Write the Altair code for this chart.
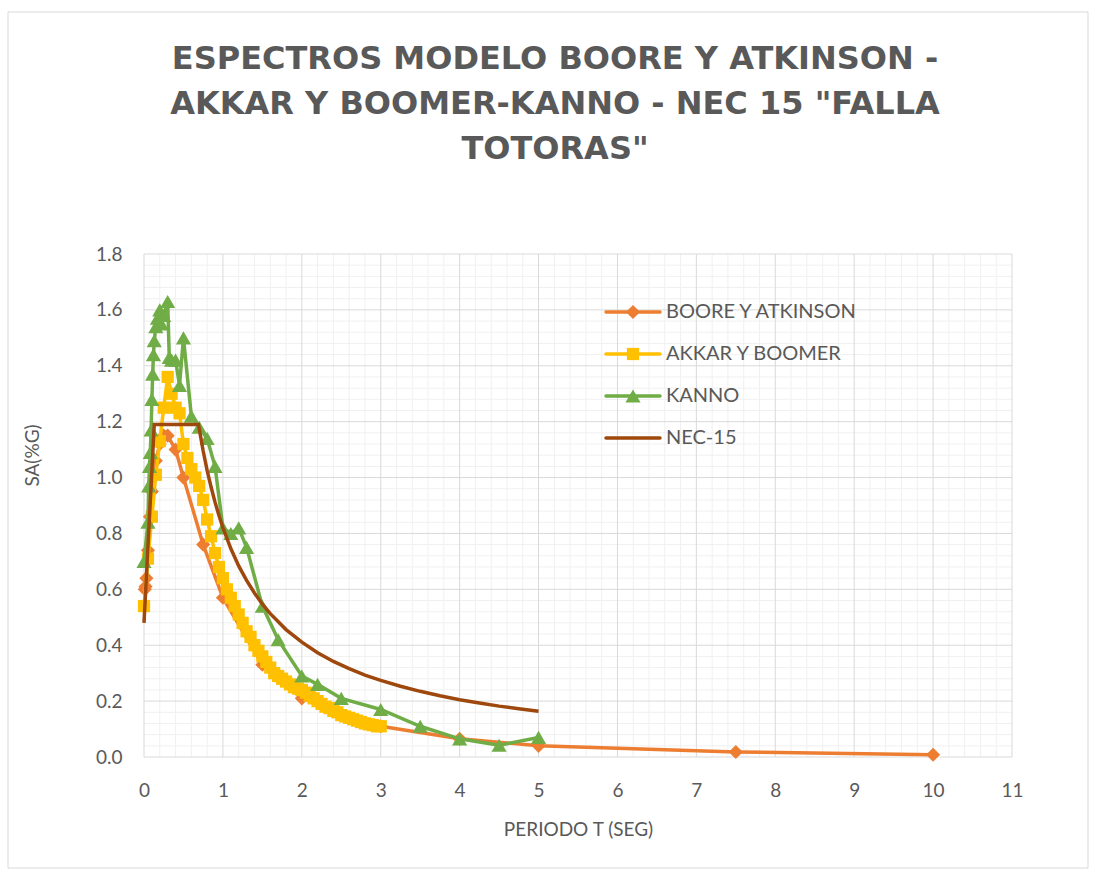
import altair as alt
import pandas as pd

# Series names and colours
SERIES = ["BOORE Y ATKINSON", "AKKAR Y BOOMER", "KANNO", "NEC-15"]
COLORS = ["#ED7D31", "#FFC000", "#70AD47", "#9E480E"]

# Boore y Atkinson: period (s) and spectral acceleration
ba_t = [0.01, 0.02, 0.03, 0.05, 0.075, 0.10, 0.15, 0.20, 0.25, 0.30, 0.40,
        0.50, 0.75, 1.00, 1.50, 2.00, 3.00, 4.00, 5.00, 7.50, 10.0]
ba_sa = [0.60, 0.61, 0.64, 0.74, 0.86, 0.95, 1.06, 1.12, 1.15, 1.15, 1.10,
         1.00, 0.76, 0.57, 0.33, 0.21, 0.11, 0.065, 0.04, 0.018, 0.008]

# Akkar y Bommer
ak_t = [0.00, 0.05, 0.10, 0.15, 0.20, 0.25, 0.30, 0.35, 0.40, 0.45,
        0.50, 0.55, 0.60, 0.65, 0.70, 0.75, 0.80, 0.85, 0.90, 0.95,
        1.00, 1.05, 1.10, 1.15, 1.20, 1.25, 1.30, 1.35, 1.40, 1.45,
        1.50, 1.55, 1.60, 1.65, 1.70, 1.75, 1.80, 1.85, 1.90, 1.95,
        2.00, 2.05, 2.10, 2.15, 2.20, 2.25, 2.30, 2.35, 2.40, 2.45,
        2.50, 2.55, 2.60, 2.65, 2.70, 2.75, 2.80, 2.85, 2.90, 2.95, 3.00]
ak_sa = [0.54, 0.71, 0.86, 1.01, 1.13, 1.25, 1.36, 1.30, 1.25, 1.23,
         1.12, 1.07, 1.03, 1.00, 0.97, 0.92, 0.85, 0.79, 0.73, 0.68,
         0.64, 0.60, 0.57, 0.54, 0.51, 0.48, 0.45, 0.43, 0.40, 0.38,
         0.36, 0.34, 0.32, 0.30, 0.29, 0.28, 0.27, 0.26, 0.25, 0.245,
         0.24, 0.23, 0.22, 0.21, 0.20, 0.19, 0.18, 0.175, 0.165, 0.16,
         0.15, 0.145, 0.14, 0.135, 0.13, 0.125, 0.12, 0.117, 0.114, 0.11, 0.11]

# Kanno
ka_t = [0.00, 0.05, 0.06, 0.07, 0.08, 0.09, 0.10, 0.11, 0.12, 0.13,
        0.15, 0.17, 0.20, 0.22, 0.25, 0.30, 0.32, 0.35, 0.40, 0.45,
        0.50, 0.60, 0.70, 0.80, 0.90, 1.00, 1.10, 1.20, 1.30, 1.50,
        1.70, 2.00, 2.20, 2.50, 3.00, 3.50, 4.00, 4.50, 5.00]
ka_sa = [0.70, 0.84, 0.97, 1.04, 1.09, 1.17, 1.28, 1.37, 1.44, 1.49,
         1.54, 1.57, 1.60, 1.55, 1.58, 1.63, 1.43, 1.42, 1.42, 1.33,
         1.50, 1.22, 1.18, 1.14, 1.04, 0.82, 0.80, 0.82, 0.75, 0.54,
         0.42, 0.29, 0.26, 0.21, 0.17, 0.11, 0.065, 0.042, 0.07]

# NEC-15 design spectrum
nec_t = [0.00, 0.13, 0.69, 0.75, 0.80, 0.85, 0.90, 0.95, 1.00, 1.10,
         1.20, 1.30, 1.40, 1.50, 1.60, 1.80, 2.00, 2.20, 2.40, 2.60,
         2.80, 3.00, 3.25, 3.50, 3.75, 4.00, 4.25, 4.50, 4.75, 5.00]
nec_sa = [0.48, 1.19, 1.19, 1.095, 1.026, 0.966, 0.912, 0.864, 0.821, 0.746,
          0.684, 0.632, 0.587, 0.547, 0.513, 0.456, 0.411, 0.373, 0.342, 0.316,
          0.293, 0.274, 0.253, 0.235, 0.219, 0.205, 0.193, 0.182, 0.173, 0.164]

# Axis ticks and gridlines
x_ticks = list(range(0, 12))
y_ticks = [0.0, 0.2, 0.4, 0.6, 0.8, 1.0, 1.2, 1.4, 1.6, 1.8]
x_minor = [round(i * 0.2, 2) for i in range(56) if i % 5]
y_minor = [round(i * 0.04, 2) for i in range(46) if i % 5]

TEXT = "#595959"
FONT = "Lato"
LINE_W = 3.5

# marker shape and size per series (NEC-15 has none)
MARKERS = {SERIES[0]: ("diamond", 200), SERIES[1]: ("square", 150),
           SERIES[2]: ("triangle-up", 230)}

xs = alt.Scale(domain=[0, 11], nice=False, zero=False)
ys = alt.Scale(domain=[0, 1.8], nice=False, zero=False)
cs = alt.Scale(domain=SERIES, range=COLORS)

x_axis = alt.Axis(values=x_ticks, format="d", grid=False, domain=False, ticks=False,
                  labelPadding=24, labelFlush=False, labelOverlap=False,
                  title="PERIODO T (SEG)", titleY=72, titleBaseline="middle")
y_axis = alt.Axis(values=y_ticks, format=".1f", grid=False, domain=False, ticks=False,
                  labelPadding=22, labelFlush=False, labelOverlap=False,
                  title="SA(%G)", titleX=-112, titleY=201, titleAngle=-90,
                  titleAlign="center", titleBaseline="middle")


def X(field):
    return alt.X(field, scale=xs, axis=x_axis)


def Y(field):
    return alt.Y(field, scale=ys, axis=y_axis)


def table(t, sa, name):
    return pd.DataFrame({"T": t, "SA": sa, "serie": name})


data = {
    SERIES[0]: table(ba_t, ba_sa, SERIES[0]),
    SERIES[1]: table(ak_t, ak_sa, SERIES[1]),
    SERIES[2]: table(ka_t, ka_sa, SERIES[2]),
    SERIES[3]: table(nec_t, nec_sa, SERIES[3]),
}

# outer chart border
frame = alt.Chart(pd.DataFrame({"k": [0]})).mark_rect(
    fill="transparent", stroke="#D9D9D9", strokeWidth=1
).encode(x=alt.value(-136), x2=alt.value(944), y=alt.value(-242), y2=alt.value(614))


def vrules(vals, color):
    return alt.Chart(pd.DataFrame({"v": vals})).mark_rule(color=color, strokeWidth=1).encode(x=X("v:Q"))


def hrules(vals, color):
    return alt.Chart(pd.DataFrame({"v": vals})).mark_rule(color=color, strokeWidth=1).encode(y=Y("v:Q"))


layers = [frame,
          vrules(x_minor, "#F0F0F0"), hrules(y_minor, "#F0F0F0"),
          vrules(x_ticks, "#D9D9D9"), hrules(y_ticks, "#D9D9D9")]

for name in SERIES:
    df = data[name]
    layers.append(
        alt.Chart(df).mark_line(strokeWidth=LINE_W).encode(
            x=X("T:Q"), y=Y("SA:Q"),
            color=alt.Color("serie:N", scale=cs, legend=None),
        )
    )
    if name in MARKERS:
        shape, size = MARKERS[name]
        layers.append(
            alt.Chart(df).mark_point(filled=True, opacity=1, shape=shape, size=size).encode(
                x=X("T:Q"), y=Y("SA:Q"),
                color=alt.Color("serie:N", scale=cs, legend=None),
            )
        )

# legend: one row per series, a line sample with its marker and the name
LEG_X0, LEG_X1, LEG_TX, LEG_Y0, LEG_DY = 462, 516, 522, 58, 42
for i, (name, color) in enumerate(zip(SERIES, COLORS)):
    row = pd.DataFrame({"label": [name]})
    yv = LEG_Y0 + LEG_DY * i
    layers.append(
        alt.Chart(row).mark_rule(color=color, strokeWidth=LINE_W, strokeCap="round").encode(
            x=alt.value(LEG_X0), x2=alt.value(LEG_X1), y=alt.value(yv))
    )
    if name in MARKERS:
        shape, size = MARKERS[name]
        layers.append(
            alt.Chart(row).mark_point(filled=True, opacity=1, shape=shape, size=size, color=color).encode(
                x=alt.value((LEG_X0 + LEG_X1) / 2), y=alt.value(yv))
        )
    layers.append(
        alt.Chart(row).mark_text(align="left", baseline="middle", font=FONT, fontSize=20, color=TEXT).encode(
            x=alt.value(LEG_TX), y=alt.value(yv), text="label:N")
    )

title = alt.TitleParams(
    text=['ESPECTROS MODELO BOORE Y ATKINSON -',
          'AKKAR Y BOOMER-KANNO - NEC 15 "FALLA',
          'TOTORAS"'],
    font="DejaVu Sans", fontSize=32, fontWeight="bold", color=TEXT,
    anchor="middle", offset=0, dy=154, dx=-23, lineHeight=45,
)

chart = alt.layer(*layers).properties(
    width=868, height=503, title=title,
    autosize=alt.AutoSizeParams(type="none"),
    padding={"left": 144, "top": 254, "right": 82, "bottom": 117},
    background="white",
).configure_axis(
    labelFont=FONT, labelFontSize=19, labelColor=TEXT,
    titleFont=FONT, titleFontSize=19, titleColor=TEXT, titleFontWeight="normal",
).configure_view(stroke=None)

chart.save("out.html", embed_options={"renderer": "svg", "actions": False})
